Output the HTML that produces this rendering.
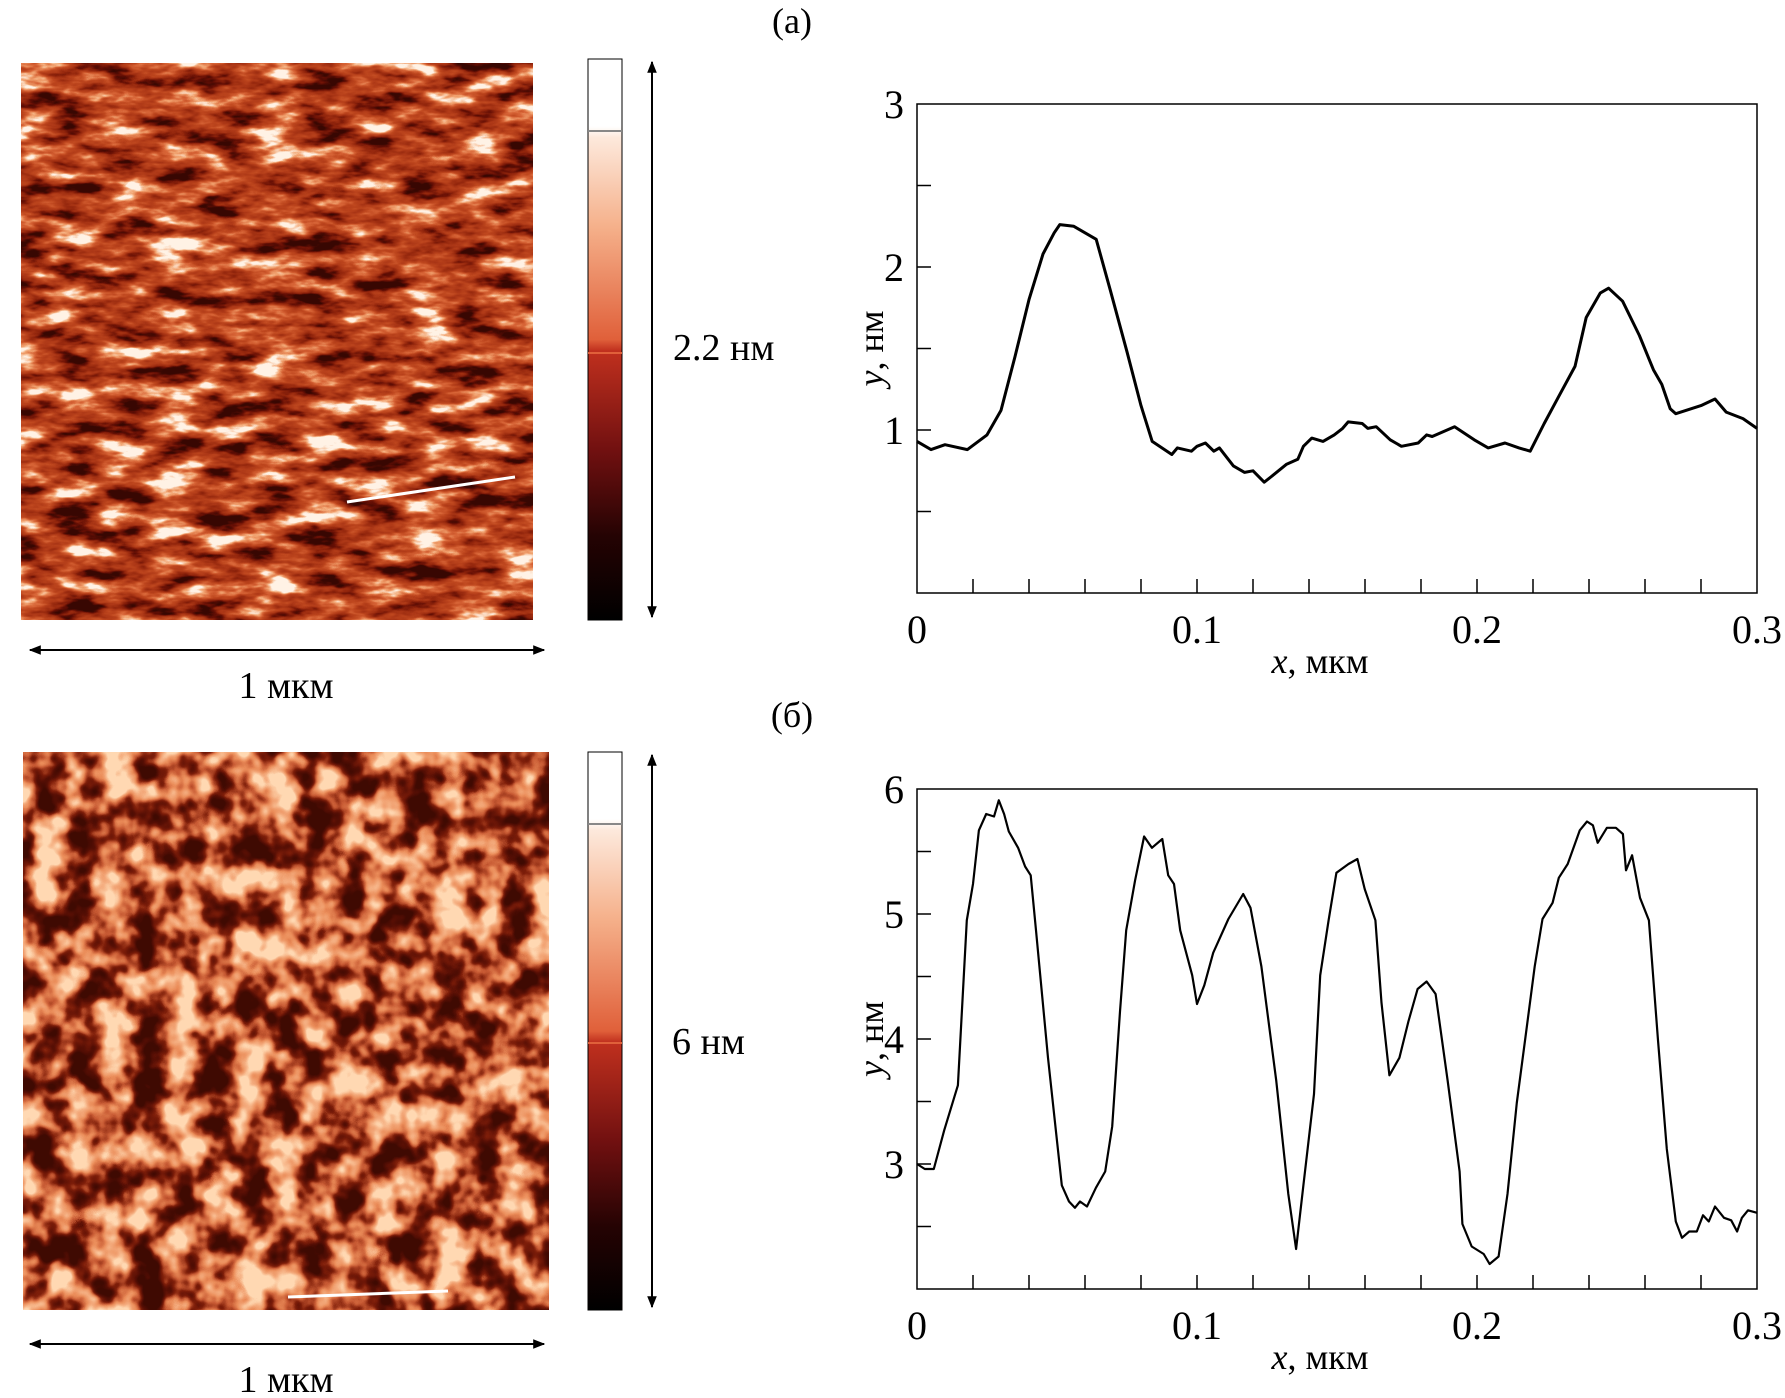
<!DOCTYPE html>
<html><head><meta charset="utf-8"><style>
html,body{margin:0;padding:0;background:#fff;}
svg{display:block;font-family:"Liberation Serif",serif;}
</style></head><body>
<svg id="fig" width="1785" height="1398" viewBox="0 0 1785 1398" xmlns="http://www.w3.org/2000/svg">
<defs>
<filter id="afmA" x="0" y="0" width="100%" height="100%" color-interpolation-filters="sRGB">
<feTurbulence type="fractalNoise" baseFrequency="0.02 0.055" numOctaves="4" seed="7"/>
<feColorMatrix type="matrix" values="1 0 0 0 0  1 0 0 0 0  1 0 0 0 0  0 0 0 0 1"/>
<feComponentTransfer>
<feFuncR type="linear" slope="2.2" intercept="-0.6"/>
<feFuncG type="linear" slope="2.2" intercept="-0.6"/>
<feFuncB type="linear" slope="2.2" intercept="-0.6"/>
</feComponentTransfer>
<feComponentTransfer>
<feFuncR type="table" tableValues="0.22 0.4 0.58 0.68 0.75 0.85 0.95 1"/>
<feFuncG type="table" tableValues="0.03 0.06 0.15 0.22 0.28 0.4 0.65 0.95"/>
<feFuncB type="table" tableValues="0.01 0.02 0.05 0.09 0.12 0.22 0.45 0.9"/>
</feComponentTransfer>
</filter>
<filter id="afmB" x="0" y="0" width="100%" height="100%" color-interpolation-filters="sRGB">
<feTurbulence type="fractalNoise" baseFrequency="0.03" numOctaves="3" seed="3"/>
<feColorMatrix type="matrix" values="1 0 0 0 0  1 0 0 0 0  1 0 0 0 0  0 0 0 0 1"/>
<feComponentTransfer>
<feFuncR type="linear" slope="2.6" intercept="-0.8"/>
<feFuncG type="linear" slope="2.6" intercept="-0.8"/>
<feFuncB type="linear" slope="2.6" intercept="-0.8"/>
</feComponentTransfer>
<feComponentTransfer>
<feFuncR type="table" tableValues="0.25 0.35 0.5 0.78 0.92 0.96 1"/>
<feFuncG type="table" tableValues="0.04 0.06 0.12 0.35 0.55 0.68 0.85"/>
<feFuncB type="table" tableValues="0.01 0.02 0.04 0.2 0.35 0.5 0.7"/>
</feComponentTransfer>
</filter>
<linearGradient id="cbar" x1="0" y1="0" x2="0" y2="1">
<stop offset="0" stop-color="#ffffff"/><stop offset="0.12" stop-color="#ffffff"/>
<stop offset="0.14" stop-color="#fde9dc"/><stop offset="0.3" stop-color="#f5b08a"/>
<stop offset="0.5" stop-color="#e0603a"/><stop offset="0.52" stop-color="#c0301e"/>
<stop offset="0.7" stop-color="#701010"/><stop offset="0.85" stop-color="#250303"/>
<stop offset="1" stop-color="#000000"/>
</linearGradient>
<marker id="ah" viewBox="0 0 10 10" refX="9" refY="5" markerWidth="12" markerHeight="12" orient="auto-start-reverse" markerUnits="userSpaceOnUse"><path d="M0,1 L10,5 L0,9 Z" fill="#000"/></marker>
</defs>

<rect x="21" y="63" width="512" height="557" filter="url(#afmA)"/>
<line x1="347" y1="502" x2="515" y2="477" stroke="#fff" stroke-width="3"/>
<rect x="588" y="59" width="34" height="561" fill="url(#cbar)" stroke="#000" stroke-width="1"/>
<line x1="588" y1="131" x2="622" y2="131" stroke="#888" stroke-width="2"/>
<line x1="588" y1="353" x2="622" y2="353" stroke="#e0603a" stroke-width="2"/>
<line x1="652" y1="62" x2="652" y2="617" stroke="#000" stroke-width="2" marker-start="url(#ah)" marker-end="url(#ah)"/>
<text x="673" y="360" font-size="38">2.2 нм</text>
<line x1="30" y1="650" x2="544" y2="650" stroke="#000" stroke-width="2" marker-start="url(#ah)" marker-end="url(#ah)"/>
<text x="286" y="698" font-size="38" text-anchor="middle">1 мкм</text>
<text x="792" y="33" font-size="36" text-anchor="middle">(а)</text>

<rect x="23" y="752" width="526" height="558" filter="url(#afmB)"/>
<line x1="288" y1="1297" x2="448" y2="1291" stroke="#fff" stroke-width="3"/>
<rect x="588" y="752" width="34" height="558" fill="url(#cbar)" stroke="#000" stroke-width="1"/>
<line x1="588" y1="824" x2="622" y2="824" stroke="#888" stroke-width="2"/>
<line x1="588" y1="1043" x2="622" y2="1043" stroke="#e0603a" stroke-width="2"/>
<line x1="652" y1="755" x2="652" y2="1307" stroke="#000" stroke-width="2" marker-start="url(#ah)" marker-end="url(#ah)"/>
<text x="672" y="1054" font-size="38">6 нм</text>
<line x1="30" y1="1344" x2="544" y2="1344" stroke="#000" stroke-width="2" marker-start="url(#ah)" marker-end="url(#ah)"/>
<text x="286" y="1392" font-size="38" text-anchor="middle">1 мкм</text>
<text x="792" y="727" font-size="36" text-anchor="middle">(б)</text>

<g id="chartA"></g>
<g id="chartB"></g>
</svg>
<script>
var xTickLabels = ["0", "0.1", "0.2", "0.3"];
var yTickLabelsA = ["1", "2", "3"];
var yTickLabelsB = ["3", "4", "5", "6"];
var xA = [0,0.005,0.01,0.018,0.025,0.03,0.035,0.04,0.045,0.049,0.051,0.056,0.06,0.064,0.069,0.075,0.08,0.084,0.091,0.093,0.098,0.1,0.103,0.106,0.108,0.113,0.117,0.12,0.124,0.127,0.132,0.136,0.138,0.141,0.145,0.149,0.152,0.154,0.159,0.161,0.164,0.169,0.173,0.179,0.182,0.184,0.192,0.199,0.204,0.21,0.215,0.219,0.224,0.229,0.235,0.239,0.244,0.247,0.252,0.258,0.263,0.266,0.269,0.271,0.28,0.285,0.289,0.295,0.3];
var yA = [0.93,0.88,0.91,0.88,0.97,1.12,1.45,1.8,2.08,2.21,2.26,2.25,2.21,2.17,1.86,1.48,1.15,0.93,0.85,0.89,0.87,0.9,0.92,0.87,0.89,0.78,0.74,0.75,0.68,0.72,0.79,0.82,0.9,0.95,0.93,0.97,1.01,1.05,1.04,1.01,1.02,0.94,0.9,0.92,0.97,0.96,1.02,0.94,0.89,0.92,0.89,0.87,1.04,1.2,1.39,1.69,1.84,1.87,1.79,1.58,1.37,1.28,1.13,1.1,1.15,1.19,1.11,1.07,1.01];
var xB = [0,0.0028,0.006,0.0097,0.0146,0.0178,0.02,0.0221,0.0247,0.0275,0.0292,0.0311,0.0328,0.0361,0.0386,0.0406,0.0425,0.0468,0.0517,0.0543,0.0564,0.0582,0.0607,0.0639,0.0672,0.0697,0.0725,0.0747,0.0779,0.0811,0.0839,0.0876,0.0897,0.0918,0.094,0.0983,0.1,0.1026,0.1058,0.1112,0.1165,0.1191,0.123,0.1283,0.1326,0.1354,0.138,0.1418,0.144,0.147,0.1498,0.1541,0.1573,0.1599,0.1637,0.1659,0.1687,0.1723,0.1755,0.1788,0.182,0.1852,0.1895,0.1938,0.1948,0.1981,0.2024,0.2045,0.2077,0.2109,0.2142,0.2174,0.2206,0.2234,0.227,0.2292,0.2324,0.2367,0.2393,0.2414,0.2431,0.2464,0.2496,0.2521,0.2532,0.2554,0.2582,0.2614,0.2646,0.2678,0.271,0.2732,0.2758,0.2785,0.2807,0.2828,0.285,0.2882,0.2908,0.2929,0.2946,0.2968,0.3];
var yB = [3.0,2.96,2.96,3.27,3.63,4.95,5.24,5.67,5.8,5.78,5.91,5.8,5.66,5.53,5.38,5.31,4.87,3.85,2.83,2.7,2.65,2.7,2.66,2.81,2.94,3.3,4.22,4.87,5.27,5.62,5.53,5.6,5.31,5.24,4.87,4.51,4.28,4.43,4.69,4.96,5.16,5.05,4.58,3.67,2.76,2.32,2.83,3.56,4.51,4.95,5.33,5.4,5.44,5.2,4.95,4.29,3.71,3.85,4.14,4.4,4.46,4.36,3.67,2.94,2.52,2.34,2.28,2.2,2.26,2.76,3.49,4.03,4.58,4.96,5.09,5.29,5.4,5.67,5.74,5.71,5.57,5.69,5.69,5.64,5.35,5.47,5.13,4.95,4.0,3.12,2.54,2.41,2.46,2.46,2.59,2.54,2.66,2.57,2.55,2.46,2.57,2.63,2.61];

var NS = "http://www.w3.org/2000/svg";
function mk(tag, parent, attrs) {
  var e = document.createElementNS(NS, tag);
  for (var k in attrs) e.setAttribute(k, attrs[k]);
  parent.appendChild(e);
  return e;
}
function drawChart(g, top, bottom, ymin, ymax, yTicks, xs, ys, sw, suffix) {
  var L = 917, R = 1757;
  function sx(v) { return L + (v - 0) / 0.3 * (R - L); }
  function sy(v) { return bottom - (v - ymin) / (ymax - ymin) * (bottom - top); }
  var frame = mk('rect', g, {x: L, y: top, width: R - L, height: bottom - top, fill: 'none', stroke: '#000', 'stroke-width': 1.5});
  
  
  for (var i = 1; i < 15; i++) {
    var xv = i * 0.02;
    var t = mk('line', g, {x1: sx(xv), x2: sx(xv), y1: bottom, y2: bottom - 14, stroke: '#000', 'stroke-width': 1.5});
    
    
  }
  for (var yv = ymin + 0.5; yv < ymax; yv += 0.5) {
    var t2 = mk('line', g, {x1: L, x2: L + 14, y1: sy(yv), y2: sy(yv), stroke: '#000', 'stroke-width': 1.5});
    
    
  }
  xTickLabels.forEach(function (s) {
    var tx = mk('text', g, {x: sx(parseFloat(s)), y: bottom + 50, 'font-size': 40, 'text-anchor': 'middle'});
    tx.textContent = s;
    
    
  });
  yTicks.forEach(function (s) {
    var ty = mk('text', g, {x: 904, y: sy(parseFloat(s)) + 14, 'font-size': 40, 'text-anchor': 'end'});
    ty.textContent = s;
    
    
  });
  var xt = mk('text', g, {x: 1320, y: bottom + 80, 'font-size': 36, 'text-anchor': 'middle'});
  xt.innerHTML = '<tspan font-style="italic">x</tspan>, мкм';
  
  
  var cy = (top + bottom) / 2;
  var yt = mk('text', g, {x: 883, y: cy, 'font-size': 36, 'text-anchor': 'middle', transform: 'rotate(-90 883 ' + cy + ')'});
  yt.innerHTML = '<tspan font-style="italic">y</tspan>, нм';
  
  
  var d = xs.map(function (x, i) { return (i ? 'L' : 'M') + sx(x).toFixed(1) + ',' + sy(ys[i]).toFixed(1); }).join(' ');
  var p = mk('path', g, {d: d, fill: 'none', stroke: '#000', 'stroke-width': sw, 'stroke-linejoin': 'round'});
  
  
}
drawChart(document.getElementById('chartA'), 104, 593, 0, 3, yTickLabelsA, xA, yA, 3, 'a');
drawChart(document.getElementById('chartB'), 789, 1289, 2, 6, yTickLabelsB, xB, yB, 2.2, 'b');
</script>
</body></html>
